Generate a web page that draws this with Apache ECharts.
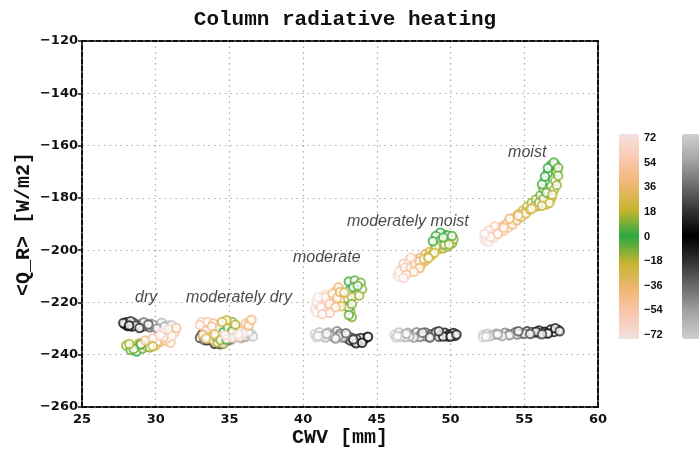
<!DOCTYPE html>
<html>
<head>
<meta charset="utf-8">
<script src="https://cdn.jsdelivr.net/npm/echarts@6/dist/echarts.min.js"></script>
<style>html,body{margin:0;padding:0;background:#fff}#c{width:699px;height:449px}</style>
</head>
<body>
<div id="c"></div>
<script>
// ---- data: [CWV (mm), <Q_R> (W/m2), lag (h)] ----
const dryColor = [
  [31.2,-232.0,-72],[31.0,-233.5,-66],[30.6,-232.8,-60],[30.2,-234.0,-54],[29.9,-234.8,-48],
  [29.5,-235.2,-42],[29.2,-236.0,-36],[28.9,-235.5,-30],[28.6,-236.8,-24],[28.3,-237.2,-18],
  [28.0,-236.5,-12],[28.3,-238.2,-6],[28.7,-238.8,0],[29.1,-237.6,6],[28.9,-236.3,12],
  [29.4,-236.9,18],[29.7,-235.9,24],[30.0,-236.4,30],[30.3,-235.1,36],[30.7,-234.6,42],
  [31.0,-235.4,48],[30.8,-233.6,54],[31.3,-231.2,60],[30.9,-230.4,66],[30.4,-231.5,72],
  [28.5,-237.8,-9],[29.0,-236.0,-3],[29.6,-237.2,9],[30.1,-235.0,33],[30.5,-233.3,51],
  [31.1,-232.8,63],[29.3,-234.6,-39],[29.8,-233.8,-51],[30.3,-232.6,-63],[28.2,-235.9,-15],
  [29.8,-236.8,21],[31.4,-229.8,45]
];
const modDryColor = [
  [34.3,-231.5,-72],[33.6,-228.2,-66],[33.1,-227.4,-60],[33.5,-227.5,-54],[33.9,-228.0,-48],
  [33.4,-230.8,-42],[33.2,-232.5,-36],[33.6,-233.4,-30],[33.9,-234.5,-24],[34.2,-235.3,-18],
  [34.6,-235.8,-12],[34.1,-233.0,-6],[34.6,-231.4,0],[34.9,-229.6,6],[35.2,-227.5,12],
  [34.8,-226.8,18],[35.3,-229.8,24],[35.0,-232.0,30],[35.6,-230.8,36],[36.1,-228.2,42],
  [36.4,-227.0,48],[35.7,-233.2,54],[34.9,-233.8,60],[34.4,-233.0,66],[35.9,-231.8,72],
  [33.0,-228.6,-57],[33.8,-229.2,-45],[34.0,-232.2,-27],[34.4,-234.4,-15],[34.8,-234.2,-3],
  [35.2,-231.0,3],[35.4,-228.5,15],[34.5,-227.5,21],[36.3,-228.8,39],[36.5,-226.6,45],
  [35.2,-233.5,57],[34.7,-232.6,63],[35.6,-232.2,69],[33.4,-233.8,-33]
];
const moderateColor = [
  [40.8,-222.5,-72],[41.0,-220.3,-66],[41.3,-218.6,-60],[41.6,-219.8,-54],[41.9,-217.5,-48],
  [42.2,-215.8,-42],[42.4,-214.2,-36],[42.6,-217.4,-30],[42.7,-220.2,-24],[42.8,-219.5,-18],
  [43.0,-221.5,-15],[43.2,-223.5,-12],[43.3,-225.6,-9],[43.1,-222.0,-6],[43.0,-218.5,-3],
  [43.2,-215.0,0],[43.1,-212.0,3],[43.5,-211.6,6],[43.9,-212.5,9],[44.0,-215.0,12],
  [43.6,-216.8,15],[43.3,-218.0,18],[42.5,-219.0,36],[42.1,-220.5,42],[41.7,-222.3,48],
  [41.4,-223.7,54],[41.1,-221.6,60],[41.5,-217.0,66],[40.9,-219.6,72],
  [40.9,-223.8,-69],[41.2,-221.8,-63],[41.5,-218.0,-57],[41.8,-220.6,-51],[42.0,-216.6,-45],
  [42.3,-218.3,-39],[42.5,-216.0,-33],[42.6,-221.5,-27],[43.4,-214.2,-1],[43.7,-213.6,7],
  [43.8,-217.4,14],[43.3,-220.6,-10],[43.1,-224.8,-7],[42.2,-221.8,45],[41.8,-224.0,51],
  [41.3,-224.5,57],[41.0,-218.0,69],[42.8,-216.2,27]
];
const modMoistColor = [
  [46.4,-209.5,-72],[46.6,-207.5,-66],[46.9,-208.8,-60],[47.1,-206.0,-54],[47.4,-205.0,-48],
  [47.7,-203.6,-42],[48.0,-202.8,-36],[48.3,-201.5,-30],[48.6,-200.6,-24],[48.9,-200.0,-21],
  [49.2,-199.6,-18],[49.5,-199.3,-15],[49.8,-198.6,-12],[50.1,-197.4,-9],[49.9,-195.6,-6],
  [49.6,-194.2,-3],[49.3,-193.3,0],[49.0,-194.6,3],[49.3,-196.3,6],[49.7,-196.6,9],
  [50.2,-195.8,12],[49.4,-198.0,15],[48.7,-202.0,18],[48.3,-204.0,24],[48.0,-205.5,30],
  [47.7,-206.2,36],[47.4,-207.0,42],[47.1,-207.6,48],[46.8,-205.2,54],[47.2,-204.0,60],
  [46.7,-209.0,66],[46.5,-210.2,72],
  [46.5,-208.3,-69],[46.9,-206.6,-57],[47.3,-206.6,-51],[47.6,-205.3,-45],[47.9,-204.3,-39],
  [48.2,-203.4,-33],[48.5,-202.4,-27],[49.0,-198.6,-16],[49.6,-197.8,-11],[49.8,-194.4,-4],
  [49.5,-195.2,-2],[50.1,-194.6,5],[48.8,-196.6,1],[49.9,-197.8,13],[48.9,-201.0,20],
  [48.5,-203.0,22],[47.9,-206.8,33],[47.5,-208.3,45],[47.0,-209.4,51],[46.8,-210.6,63],
  [47.3,-202.8,57]
];
const moistColor = [
  [52.3,-195.8,-72],[52.5,-194.2,-66],[52.8,-193.0,-60],[53.1,-192.0,-54],[53.4,-191.2,-48],
  [53.7,-190.3,-42],[54.0,-189.0,-36],[54.3,-187.6,-30],[54.6,-186.3,-24],[54.9,-184.8,-21],
  [55.2,-183.4,-18],[55.5,-182.0,-15],[55.8,-180.6,-12],[56.1,-179.0,-9],[56.3,-176.5,-6],
  [56.4,-173.5,-3],[56.6,-170.5,0],[56.8,-167.5,3],[57.1,-167.2,6],[57.2,-170.0,9],
  [57.1,-173.5,12],[57.0,-177.0,15],[56.8,-180.5,18],[56.5,-182.5,21],[55.9,-183.2,24],
  [55.0,-185.6,30],[54.2,-188.7,36],[53.8,-190.0,42],[53.4,-192.5,48],[53.0,-191.0,54],
  [52.6,-192.5,60],[52.9,-194.0,66],[52.4,-196.4,72],
  [52.6,-196.8,-69],[52.9,-195.2,-63],[53.2,-193.6,-57],[53.6,-192.6,-51],[53.9,-191.4,-45],
  [54.2,-190.2,-39],[54.5,-188.6,-33],[54.8,-187.3,-27],[55.1,-186.0,-22],[55.4,-184.5,-19],
  [55.7,-183.2,-16],[56.0,-181.8,-13],[56.3,-180.4,-10],[56.5,-178.0,-7],[56.2,-174.8,-4],
  [56.4,-171.8,-1],[56.6,-168.6,1],[57.0,-166.5,4],[57.3,-168.5,7],[57.3,-171.5,10],
  [57.2,-175.2,13],[56.9,-178.8,16],[56.7,-182.0,19],[56.2,-183.0,22],[55.5,-184.2,27],
  [54.6,-186.8,33],[54.0,-188.0,39],[53.6,-191.4,45],[53.2,-193.8,51],[52.7,-195.0,63],
  [52.3,-193.8,69]
];
const dryGrey = [
  [30.9,-228.6,-72],[30.6,-229.2,-66],[30.3,-228.3,-60],[30.0,-228.9,-54],[29.7,-228.2,-48],
  [29.4,-228.7,-42],[29.1,-228.0,-36],[28.8,-228.5,-30],[28.5,-227.8,-24],[28.2,-228.3,-18],
  [28.0,-227.6,-12],[27.9,-228.4,-6],[28.1,-229.0,0],[28.4,-229.2,6],[28.7,-228.9,12],
  [29.0,-229.4,18],[29.3,-229.0,24],[29.6,-229.5,30],[29.9,-229.1,36],[30.2,-229.6,42],
  [30.5,-229.8,48],[30.8,-229.9,54],[31.0,-229.3,60],[31.2,-230.2,66],[30.7,-230.4,72],
  [27.8,-227.9,-9],[28.3,-227.2,-15],[28.6,-228.9,-27],[29.2,-227.6,-39],[29.8,-228.5,-51],
  [30.4,-227.8,-63],[28.2,-228.8,3],[28.9,-229.8,15],[29.5,-228.4,27],[30.1,-230.0,45],
  [30.6,-229.2,57],[31.1,-228.7,69]
];
const modDryGrey = [
  [36.5,-232.0,-72],[36.2,-232.6,-66],[35.9,-231.8,-60],[35.6,-232.9,-54],[35.3,-233.4,-48],
  [35.1,-234.2,-42],[34.9,-234.6,-36],[34.7,-235.0,-30],[34.5,-235.3,-24],[34.3,-235.6,-18],
  [34.1,-235.2,-12],[33.9,-234.7,-6],[34.2,-234.3,0],[33.7,-233.9,6],[33.4,-233.2,12],
  [33.1,-232.6,18],[33.0,-233.6,24],[33.3,-234.4,30],[35.0,-233.0,36],[35.4,-232.2,42],
  [35.8,-233.6,48],[36.1,-233.1,54],[36.4,-232.4,60],[36.6,-233.0,66],[35.7,-231.6,72],
  [34.4,-236.0,-21],[34.0,-235.8,-9],[34.6,-234.6,-27],[33.5,-234.5,9],[36.3,-231.4,-69],
  [35.5,-231.9,63],[33.2,-232.0,15]
];
const moderateGrey = [
  [40.8,-232.2,-72],[41.1,-231.4,-66],[41.4,-232.6,-60],[41.7,-231.5,-54],[42.0,-232.3,-48],
  [42.3,-231.0,-42],[42.5,-232.0,-36],[42.8,-232.9,-30],[43.0,-233.8,-24],[43.2,-234.6,-18],
  [43.5,-235.2,-12],[43.8,-234.8,-6],[44.1,-234.2,0],[44.3,-233.4,6],[43.9,-233.6,12],
  [43.6,-234.0,18],[43.3,-233.5,24],[43.0,-232.6,30],[42.7,-233.4,36],[42.4,-232.9,42],
  [42.1,-233.3,48],[41.8,-232.8,54],[41.5,-233.4,60],[41.2,-232.9,66],[40.9,-233.3,72],
  [43.6,-235.6,-9],[44.0,-235.4,-3],[43.4,-234.2,-15],[44.4,-233.1,3],[42.9,-231.8,-33],
  [42.2,-233.8,45],[41.6,-232.0,-57],[41.0,-232.8,-69]
];
const modMoistGrey = [
  [46.2,-232.4,-72],[46.5,-231.5,-66],[46.8,-232.6,-60],[47.1,-231.6,-54],[47.4,-232.5,-48],
  [47.7,-231.4,-42],[48.0,-232.3,-36],[48.3,-231.5,-30],[48.7,-232.2,-24],[49.0,-231.4,-18],
  [49.3,-232.4,-12],[49.6,-231.6,-6],[49.9,-232.3,0],[50.2,-231.7,6],[50.3,-232.8,12],
  [49.8,-233.0,18],[49.2,-233.1,24],[48.5,-233.0,30],[48.2,-232.9,36],[47.9,-233.2,42],
  [47.5,-233.4,48],[47.2,-233.0,54],[46.9,-233.3,60],[46.6,-233.1,66],[46.3,-233.4,72],
  [49.5,-233.0,-9],[50.0,-233.0,3],[50.4,-232.3,9],[49.2,-231.0,-15],[48.6,-233.4,27],
  [47.0,-232.0,-57],[46.4,-232.8,69],[48.1,-231.6,-33]
];
const moistGrey = [
  [52.2,-232.5,-72],[52.5,-232.0,-66],[52.8,-232.7,-60],[53.1,-231.9,-54],[53.4,-232.5,-48],
  [53.7,-231.6,-42],[54.0,-232.2,-36],[54.4,-231.4,-30],[54.8,-231.9,-24],[55.2,-231.0,-18],
  [55.6,-231.6,-12],[56.0,-230.7,-6],[56.4,-231.2,0],[56.8,-230.4,3],[57.3,-230.5,6],
  [57.0,-231.3,12],[56.5,-231.7,18],[56.0,-231.8,24],[55.5,-231.3,30],[55.0,-232.0,36],
  [54.5,-232.3,42],[54.0,-232.6,48],[53.5,-232.9,54],[53.0,-232.4,60],[52.6,-233.0,66],
  [52.2,-233.3,72],
  [56.6,-231.9,-3],[57.1,-229.9,9],[57.4,-231.0,15],[55.8,-231.2,-9],[55.4,-232.1,27],
  [54.6,-231.0,-27],[56.2,-232.2,21],[53.2,-232.2,-51],[52.4,-233.0,-69]
];
const regimeNames = ['dry','moderately dry','moderate','moderately moist','moist'];
const regimeLabelX = [29.35, 35.65, 41.6, 47.1, 55.2];
const regimeLabelY = [-218.3, -218.3, -203.0, -188.9, -162.8];
const xTicks = [25, 30, 35, 40, 45, 50, 55, 60];
const yTicks = [-260, -240, -220, -200, -180, -160, -140, -120];
const lagTicks = [-72, -54, -36, -18, 0, 18, 36, 54, 72];

const lagColors = ['#f1e1e0','#fbc7ae','#eeb66e','#c3b52e','#2ca842','#c3b52e','#eeb66e','#fbc7ae','#f1e1e0'];
const greyColors = ['#d0d0d0','#a6a6a6','#6e6e6e','#333333','#000000','#333333','#6e6e6e','#a6a6a6','#d0d0d0'];

const colorSets = [dryColor, modDryColor, moderateColor, modMoistColor, moistColor];
const greySets = [dryGrey, modDryGrey, moderateGrey, modMoistGrey, moistGrey];

const minus = v => String(v).replace('-', '\u2212');
const tickFont = {fontFamily: 'DejaVu Sans', fontWeight: 'bold', fontSize: 13, color: '#111'};

const series = [];
greySets.forEach(d => series.push({type: 'scatter', xAxisIndex: 0, yAxisIndex: 0, data: d,
  symbol: 'emptyCircle', symbolSize: 8.5, itemStyle: {borderWidth: 3}}));
colorSets.forEach(d => series.push({type: 'scatter', xAxisIndex: 0, yAxisIndex: 0, data: d,
  symbol: 'emptyCircle', symbolSize: 8.5, itemStyle: {borderWidth: 3}}));
series.push({
  type: 'scatter', xAxisIndex: 0, yAxisIndex: 0, symbolSize: 0, silent: true,
  data: regimeNames.map((n, i) => ({name: n, value: [regimeLabelX[i], regimeLabelY[i]]})),
  label: {show: true, position: 'inside', formatter: p => p.name, fontFamily: 'Liberation Sans',
    fontStyle: 'italic', fontSize: 16, color: '#1a1a1a'}
});

const chart = echarts.init(document.getElementById('c'), null, {renderer: 'canvas'});
chart.setOption({
  animation: false,
  backgroundColor: '#fff',
  title: {text: 'Column radiative heating', left: 340, top: 4, textAlign: 'center',
    textStyle: {fontFamily: 'Liberation Mono', fontWeight: 'bold', fontSize: 21, color: '#111'}},
  grid: [
    {left: 82, top: 41, width: 516, height: 366, outerBoundsMode: 'none', containLabel: false},
    {left: 619, top: 138, width: 20, height: 197, outerBoundsMode: 'none', containLabel: false}
  ],
  xAxis: [
    {type: 'value', gridIndex: 0, min: 25, max: 60, interval: 5, position: 'bottom',
      name: 'CWV [mm]', nameLocation: 'middle', nameGap: 21, nameMoveOverlap: false,
      nameTextStyle: {fontFamily: 'Liberation Mono', fontWeight: 'bold', fontSize: 20, color: '#111'},
      axisLine: {show: true, onZero: false, lineStyle: {color: '#111', width: 2, type: [5, 2]}},
      axisTick: {show: false},
      axisLabel: Object.assign({margin: 6, formatter: v => minus(v)}, tickFont),
      splitLine: {show: true, lineStyle: {color: '#aaa', width: 1.2, type: [1.5, 4]}}},
    {type: 'value', gridIndex: 0, min: 25, max: 60, position: 'top',
      axisLine: {show: true, onZero: false, lineStyle: {color: '#111', width: 2, type: [5, 2]}},
      axisTick: {show: false}, axisLabel: {show: false}, splitLine: {show: false}},
    {type: 'value', gridIndex: 1, min: 0, max: 1, show: false}
  ],
  yAxis: [
    {type: 'value', gridIndex: 0, min: -260, max: -120, interval: 20, position: 'left',
      name: '<Q_R> [W/m2]', nameLocation: 'middle', nameGap: 48, nameRotate: 90, nameMoveOverlap: false,
      nameTextStyle: {fontFamily: 'Liberation Mono', fontWeight: 'bold', fontSize: 20, color: '#111'},
      axisLine: {show: true, onZero: false, lineStyle: {color: '#111', width: 2, type: [5, 2]}},
      axisTick: {show: true, inside: false, length: 4, lineStyle: {color: '#111', width: 1.5}},
      axisLabel: Object.assign({margin: 4, formatter: v => minus(v)}, tickFont),
      splitLine: {show: true, lineStyle: {color: '#aaa', width: 1.2, type: [1.5, 4]}}},
    {type: 'value', gridIndex: 0, min: -260, max: -120, position: 'right',
      axisLine: {show: true, onZero: false, lineStyle: {color: '#111', width: 2, type: [5, 2]}},
      axisTick: {show: false}, axisLabel: {show: false}, splitLine: {show: false}},
    {type: 'value', gridIndex: 1, min: -72, max: 72, interval: 18, position: 'right',
      axisLine: {show: false}, axisTick: {show: false}, splitLine: {show: false},
      axisLabel: {margin: 5, formatter: v => minus(v), fontFamily: 'Liberation Sans',
        fontWeight: 'bold', fontSize: 11, color: '#111'}}
  ],
  visualMap: [
    {type: 'continuous', seriesIndex: [5, 6, 7, 8, 9], dimension: 2, min: -72, max: 72,
      calculable: false, hoverLink: false, left: 619, top: 134, itemWidth: 20, itemHeight: 205,
      padding: 0, inRange: {color: lagColors}},
    {type: 'continuous', seriesIndex: [0, 1, 2, 3, 4], dimension: 2, min: -72, max: 72,
      calculable: false, hoverLink: false, left: 682, top: 134, itemWidth: 20, itemHeight: 205,
      padding: 0, inRange: {color: greyColors}}
  ],
  series: series
});
</script>
</body>
</html>
